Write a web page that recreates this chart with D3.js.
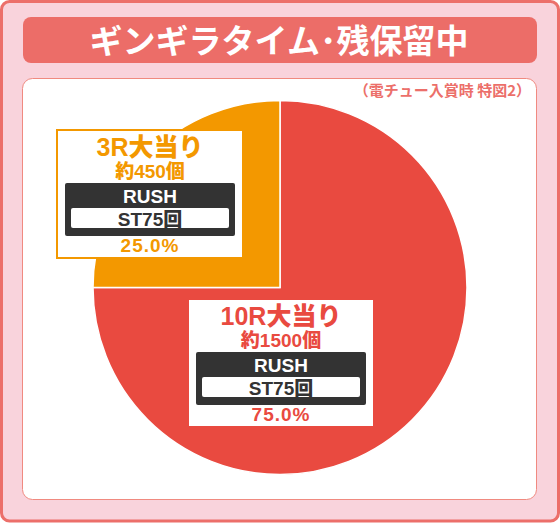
<!DOCTYPE html>
<html><head><meta charset="utf-8">
<script src="https://cdn.jsdelivr.net/npm/d3@7"></script>
<style>
html,body{margin:0;padding:0;background:#fff;}
svg{display:block;}
text{font-family:"Liberation Sans","Noto Sans CJK JP",sans-serif;font-weight:900;}
</style></head>
<body>
<svg id="chart" width="560" height="523"></svg>
<script>
const title = "ギンギラタイム･残保留中";
const subtitle = "（電チュー入賞時 特図2）";
const categories = ["10R大当り", "3R大当り"];
const values = [75, 25];
const payouts = ["約1500個", "約450個"];
const rushLabels = ["RUSH", "RUSH"];
const stLabels = ["ST75回", "ST75回"];
const percentLabels = ["75.0%", "25.0%"];
const colors = ["#e94a40", "#f39800"];

const svg = d3.select("#chart");

// frame
svg.append("rect").attr("x",1.5).attr("y",1.5).attr("width",557).attr("height",519.5)
  .attr("rx",8).attr("fill","#f9d3dc").attr("stroke","#ec6f6a").attr("stroke-width",3);
svg.append("rect").attr("x",23).attr("y",17).attr("width",514).attr("height",46)
  .attr("rx",8).attr("fill","#ec6d68");
svg.append("text").attr("x",279).attr("y",52.5).attr("text-anchor","middle")
  .attr("fill","#fff").attr("font-size",33).style("font-family",'"Noto Sans CJK JP",sans-serif')
  .style("font-weight",700).text(title);

svg.append("rect").attr("x",22.5).attr("y",78.5).attr("width",514).attr("height",421)
  .attr("rx",10).attr("fill","#fff").attr("stroke","#f08a80").attr("stroke-width",1);
svg.append("text").attr("x",531).attr("y",96).attr("text-anchor","end")
  .attr("fill","#ec6f6a").attr("font-size",15).style("font-family",'"Noto Sans CJK JP",sans-serif')
  .style("font-weight",700)
  .text(subtitle);

// pie
const cx = 280, cy = 287.5, r = 187;
const pie = d3.pie().sort(null).value(d => d)(values);
const arc = d3.arc().innerRadius(0).outerRadius(r);
const g = svg.append("g").attr("transform", `translate(${cx},${cy})`);
g.selectAll("path").data(pie).join("path")
  .attr("d", arc).attr("fill", (d,i) => colors[i])
  .attr("stroke", "#fff").attr("stroke-width", 1.5);

// label boxes (layout positions)
const boxes = [
  {x:188, y:299, w:186, h:128},
  {x:57, y:130, w:186, h:128}
];
boxes.forEach((b, i) => {
  const lg = svg.append("g").attr("transform", `translate(${b.x},${b.y})`);
  const mx = b.w/2;
  lg.append("rect").attr("x",0).attr("y",0).attr("width",b.w).attr("height",b.h)
    .attr("fill","#fff").attr("stroke",colors[i]).attr("stroke-width",2);
  lg.append("text").attr("x",mx).attr("y",26).attr("text-anchor","middle")
    .attr("fill",colors[i]).attr("font-size",25).text(categories[i]);
  lg.append("text").attr("x",mx).attr("y",48).attr("text-anchor","middle")
    .attr("fill",colors[i]).attr("font-size",19).text(payouts[i]);
  lg.append("rect").attr("x",8).attr("y",53).attr("width",170).attr("height",53)
    .attr("rx",2).attr("fill","#333");
  lg.append("text").attr("x",mx).attr("y",73).attr("text-anchor","middle")
    .attr("fill","#fff").attr("font-size",19).text(rushLabels[i]);
  lg.append("rect").attr("x",14).attr("y",78).attr("width",158).attr("height",20)
    .attr("rx",2).attr("fill","#fff");
  lg.append("text").attr("x",mx).attr("y",95.5).attr("text-anchor","middle")
    .attr("fill","#333").attr("font-size",19).text(stLabels[i]);
  lg.append("text").attr("x",mx).attr("y",122).attr("text-anchor","middle")
    .attr("fill",colors[i]).attr("font-size",19).attr("letter-spacing",1).text(percentLabels[i]);
});
</script>
</body></html>
